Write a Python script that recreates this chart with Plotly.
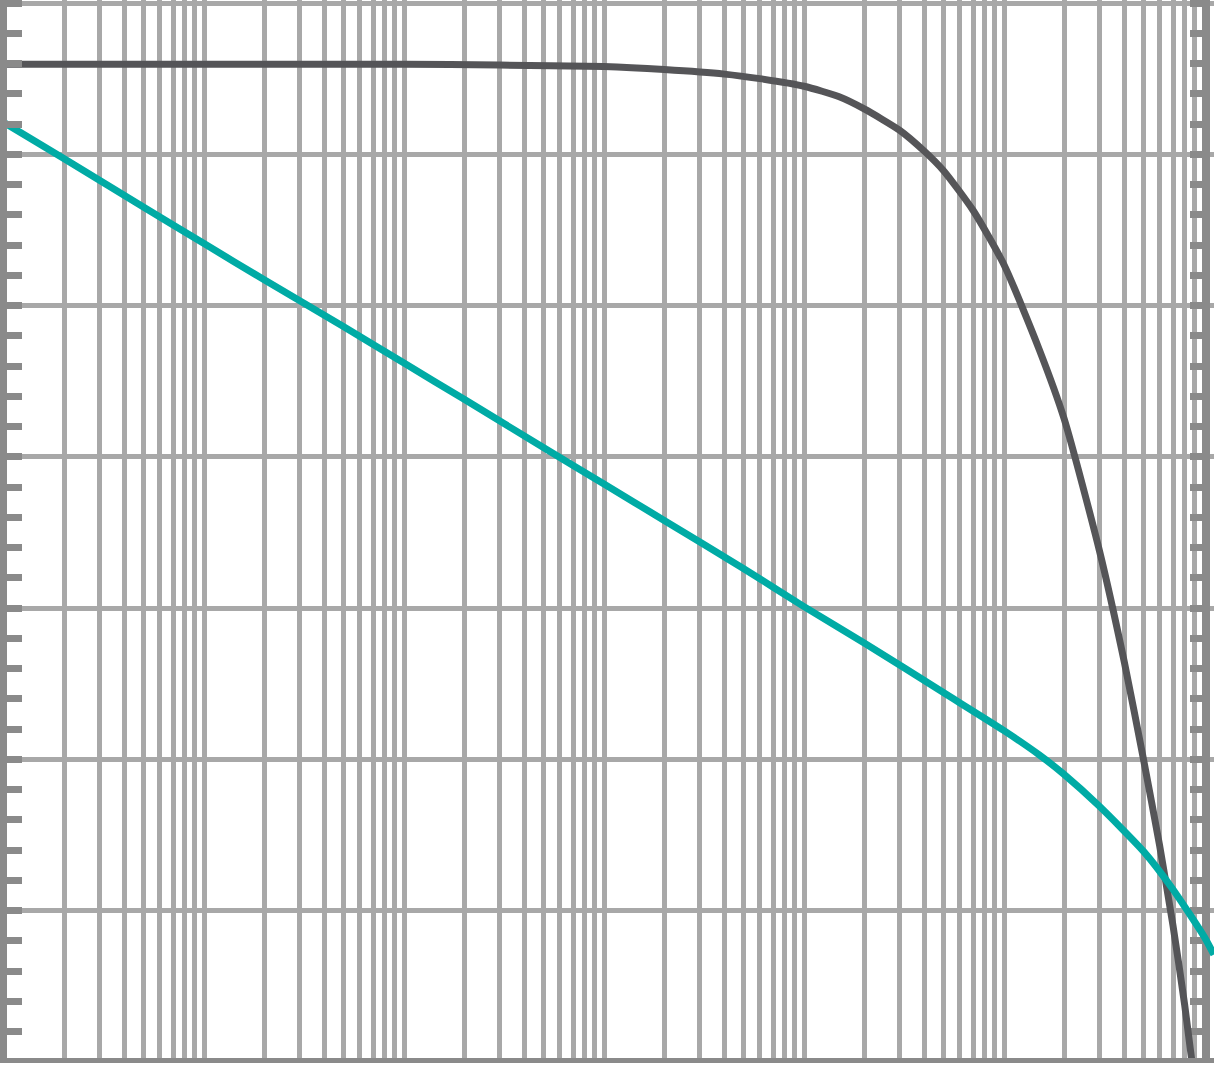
import plotly.graph_objects as go

# frequency axis (Hz) and the two response curves
dark_freq = [10, 100, 1000, 3000, 10000, 20000, 40000, 60000, 100000, 150000,
             200000, 300000, 400000, 500000, 700000, 1e6, 1.5e6, 2e6, 3e6,
             4e6, 5e6, 6e6, 7e6, 8e6, 9e6]
dark_val = [65.95, 65.95, 65.95, 65.9, 65.8, 65.6, 65.3, 65.0, 64.5, 63.8,
            63.0, 61.6, 60.2, 58.9, 56.3, 52.7, 47.1, 42.5, 33.8,
            26.4, 19.9, 14.3, 9.0, 3.8, -1.5]

teal_freq = [10, 20, 50, 100, 200, 500, 1000, 2000, 5000, 1e4, 2e4, 5e4, 1e5,
             2e5, 5e5, 1e6, 1.5e6, 2e6, 3e6, 5e6, 7e6, 1e7, 1.12e7]
teal_val = [62.1, 59.7, 56.5, 54.1, 51.7, 48.6, 46.2, 43.8, 40.6, 38.2, 35.8,
            32.6, 30.1, 27.7, 24.4, 21.9, 20.3, 19.0, 16.9, 13.9, 11.4, 8.3, 7.1]

GRID = "#a8a8a8"
AXIS = "#8a8a8a"
DARK = "#555558"
TEAL = "#00aba5"

YRANGE = [0.26, 70.2]

fig = go.Figure()
fig.add_trace(go.Scatter(x=dark_freq, y=dark_val, mode="lines",
                         line=dict(color=DARK, width=7, shape="spline", smoothing=0.6),
                         yaxis="y"))
fig.add_trace(go.Scatter(x=teal_freq, y=teal_val, mode="lines",
                         line=dict(color=TEAL, width=7, shape="spline", smoothing=0.6),
                         yaxis="y2"))

fig.update_layout(
    width=1214, height=1068,
    margin=dict(l=7, r=0, t=0, b=10, pad=0),
    paper_bgcolor="white", plot_bgcolor="white",
    showlegend=False,
    xaxis=dict(type="log", range=[1.015, 7.05], dtick=1,
               showgrid=True, gridcolor=GRID, gridwidth=5,
               minor=dict(dtick="D1", showgrid=True, gridcolor=GRID, gridwidth=5),
               showline=True, linecolor=AXIS, linewidth=5,
               ticks="", showticklabels=False, zeroline=False),
    yaxis=dict(range=YRANGE, dtick=10, tick0=0,
               showgrid=True, gridcolor=GRID, gridwidth=5,
               showline=True, linecolor=AXIS, linewidth=7,
               ticks="inside", ticklen=15, tickwidth=7, tickcolor=AXIS,
               minor=dict(dtick=2, tick0=0, ticks="inside", ticklen=15,
                          tickwidth=7, tickcolor=AXIS, showgrid=False),
               showticklabels=False, zeroline=False),
    yaxis2=dict(range=YRANGE, dtick=10, tick0=0, overlaying="y",
                anchor="free", position=0.9934, side="right",
                showgrid=False, layer="below traces",
                showline=True, linecolor=AXIS, linewidth=8,
                ticks="inside", ticklen=12, tickwidth=7, tickcolor=AXIS,
                minor=dict(dtick=2, tick0=0, ticks="inside", ticklen=12,
                           tickwidth=7, tickcolor=AXIS, showgrid=False),
                showticklabels=False, zeroline=False),
)

fig.write_html("out.html", config={"displayModeBar": False},
               post_script="document.body.style.margin='0';")
